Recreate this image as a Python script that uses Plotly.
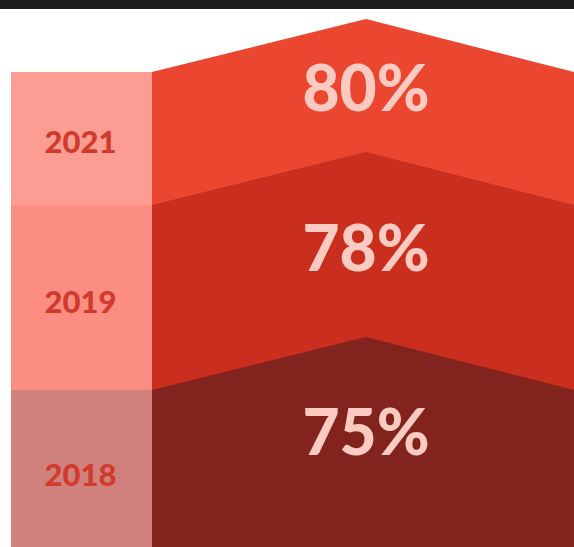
import plotly.graph_objects as go

# ---- data ----
years = ["2021", "2019", "2018"]
values = [80, 78, 75]

# ---- layout constants (pixel-like coordinate system, y grows downward) ----
W, H = 574, 547
band_tops = [72, 205, 390]          # left-edge top of each band
peak_rise = 53                      # how much the chevron peak rises above band top
col_left, col_right = 11, 152       # year column
peak_x = 366
label_y = [145, 305, 478]
value_y = [95, 255, 439]

layer_colors = ["#ea4630", "#c92e1e", "#82231d"]
column_colors = ["#fc9d94", "#fb8d82", "#d1817d"]
value_color = "#fbcac1"
year_color = "#d23a2c"

fig = go.Figure()

# chevron layers (drawn top-to-bottom so lower layers overlap)
for i, (yr, v) in enumerate(zip(years, values)):
    top = band_tops[i]
    xs = [col_right, peak_x, W, W, col_right, col_right]
    ys = [top, top - peak_rise, top, H, H, top]
    fig.add_trace(go.Scatter(
        x=xs, y=ys, mode="lines", fill="toself",
        fillcolor=layer_colors[i], line=dict(width=0, color=layer_colors[i]),
        hoverinfo="skip", showlegend=False, name=yr))

# year column
for i, yr in enumerate(years):
    top = band_tops[i]
    bottom = band_tops[i + 1] if i + 1 < len(band_tops) else H
    fig.add_trace(go.Scatter(
        x=[col_left, col_right, col_right, col_left, col_left],
        y=[top, top, bottom, bottom, top],
        mode="lines", fill="toself", fillcolor=column_colors[i],
        line=dict(width=0, color=column_colors[i]),
        hoverinfo="skip", showlegend=False))

# year labels
fig.add_trace(go.Scatter(
    x=[(col_left + col_right) / 2 - 1] * len(years), y=label_y,
    mode="text", text=years, textposition="middle center",
    textfont=dict(family="Lato", size=31, color=year_color, weight=900),
    hoverinfo="skip", showlegend=False))

# value labels
fig.add_trace(go.Scatter(
    x=[peak_x] * len(values), y=value_y,
    mode="text", text=[f"{v}%" for v in values], textposition="middle center",
    textfont=dict(family="Lato", size=64, color=value_color, weight=900),
    hoverinfo="skip", showlegend=False))

# dark top strip
fig.add_shape(type="rect", x0=0, x1=W, y0=0, y1=9, xref="x", yref="y",
              fillcolor="#1c1c1c", line=dict(width=0), layer="above")

fig.update_xaxes(range=[0, W], visible=False, fixedrange=True)
fig.update_yaxes(range=[H, 0], visible=False, fixedrange=True)
fig.update_layout(
    width=W, height=H, margin=dict(l=0, r=0, t=0, b=0),
    paper_bgcolor="white", plot_bgcolor="white",
)

fig.write_html("out.html")
